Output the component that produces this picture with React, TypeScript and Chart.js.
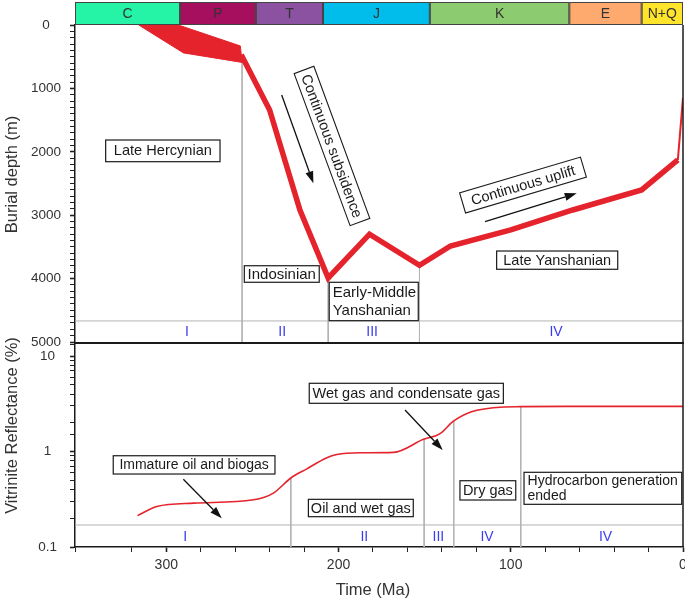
import React, { useEffect, useRef } from 'react';
import { Chart, registerables } from 'chart.js';

Chart.register(...registerables);

const FONT = "'Liberation Sans', Arial, Helvetica, sans-serif";
const RED = '#e5232c';
const GRAY = '#b3b3b3';
const BLUE = '#3a3af0';
const INK = '#1a1a1a';
const TICK_INK = '#333333';
const AGE_MAX = 353;

// ---------- geological periods (Ma) ----------
const periodNames = ['C', 'P', 'T', 'J', 'K', 'E', 'N+Q'];
const periodOlder = [353, 292, 248, 209, 147, 66, 24];
const periodYounger = [292, 248, 209, 147, 66, 24, 0];
const periodColors = ['#25f4a6', '#a50f5d', '#8a52a0', '#00bdeb', '#8ccb6f', '#fea96d', '#ffe42c'];

// ---------- burial history ----------
// early wide band (closed shape: lower edge then upper edge back)
const bandTime = [316, 290, 256, 257, 293];
const bandDepth = [0, 440, 590, 330, 0];
const burialTime = [256.5, 240, 222.4, 206, 182, 153, 135, 100, 64, 24, 3, 0];
const burialDepth = [470, 1340, 2920, 3990, 3300, 3790, 3486, 3230, 2918, 2602, 2129, 1150];

const depthTickLabels = [0, 1000, 2000, 3000, 4000, 5000];
const burialStageTimes = [256, 206, 153];
const burialStageTopDepth = [590, 4000, 3810];
const burialStageBaseDepth = 4668;
const burialStageLabels = ['I', 'II', 'III', 'IV'];
const burialStageLabelTimes = [288, 232.7, 180.5, 73.7];
const burialStageLabelDepth = 4842;

// ---------- vitrinite reflectance ----------
const roTime = [316.7, 305.5, 284, 249.4, 237.8, 227.7, 218.4, 206.8, 201, 187.5, 168, 150.7, 141, 133.3, 119.7, 94.6, 60, 0];
const roValue = [0.213, 0.266, 0.288, 0.312, 0.367, 0.528, 0.658, 0.859, 0.93, 0.97, 0.98, 1.34, 1.54, 2.08, 2.7, 2.95, 2.97, 2.97];

const roTickLabels = [0.1, 1, 10];
const ageTickLabels = [300, 200, 100, 0];
const roStageTimes = [227.7, 150.3, 133.1, 94.2];
const roStageTopValue = [0.528, 1.34, 2.08, 2.95];
const roStageBase = 0.17;
const roStageLabels = ['I', 'II', 'III', 'IV', 'IV'];
const roStageLabelTimes = [289, 185, 142, 113.8, 45];
const roStageLabelValue = 0.127;

// ---------- annotations (data coordinates) ----------
const upperNotes = [
  { lines: ['Late Hercynian'], x1: 335.2, x2: 268.8, y1: 1814, y2: 2156, size: 14.6, align: 'center', lh: 17 },
  { lines: ['Indosinian'], x1: 254.7, x2: 211.2, y1: 3797, y2: 4058, size: 15, align: 'center', lh: 17 },
  { lines: ['Early-Middle', 'Yanshanian'], x1: 205.4, x2: 153.7, y1: 4058, y2: 4664, size: 15, align: 'left', lh: 18.3 },
  { lines: ['Late Yanshanian'], x1: 108.2, x2: 37.9, y1: 3565, y2: 3853, size: 14.5, align: 'center', lh: 17 },
];
const upperRotNotes = [
  { text: 'Continuous subsidence', t: 203.8, d: 1908, w: 162, h: 21, angle: 69.8, size: 14.6 },
  { text: 'Continuous uplift', t: 92.9, d: 2524, w: 126, h: 21, angle: -16.5, size: 14.5 },
];
const upperArrows = [
  { t1: 233, d1: 1104, t2: 214.6, d2: 2497 },
  { t1: 114.95, d1: 3102, t2: 61.7, d2: 2655 },
];
const lowerNotes = [
  { lines: ['Immature oil and biogas'], x1: 330.8, x2: 236.9, y1: 0.903, y2: 0.581, size: 14, align: 'center', lh: 17 },
  { lines: ['Oil and wet gas'], x1: 217.5, x2: 156.6, y1: 0.3157, y2: 0.2077, size: 14.5, align: 'center', lh: 17 },
  { lines: ['Wet gas and condensate gas'], x1: 217.0, x2: 104.3, y1: 5.18, y2: 3.197, size: 14.5, align: 'center', lh: 17 },
  { lines: ['Dry gas'], x1: 129.5, x2: 97.1, y1: 0.4944, y2: 0.3105, size: 14.5, align: 'center', lh: 17 },
  { lines: ['Hydrocarbon generation', 'ended'], x1: 92.3, x2: 0.75, y1: 0.6057, y2: 0.2799, size: 14, align: 'left', lh: 14.5 },
];
const lowerArrows = [
  { t1: 290.1, d1: 0.512, t2: 267.8, d2: 0.1997 },
  { t1: 161.4, d1: 2.72, t2: 139.5, d2: 1.037 },
];

const near = (a: number, b: number) => Math.abs(a - b) < 1e-6 * Math.max(1, Math.abs(b));

function drawBox(ctx: any, xs: any, ys: any, n: any) {
  const l0 = xs.getPixelForValue(n.x1), r0 = xs.getPixelForValue(n.x2);
  const t0 = ys.getPixelForValue(n.y1), b0 = ys.getPixelForValue(n.y2);
  const left = Math.min(l0, r0), right = Math.max(l0, r0);
  const top = Math.min(t0, b0), bottom = Math.max(t0, b0);
  ctx.fillStyle = '#ffffff';
  ctx.fillRect(left, top, right - left, bottom - top);
  ctx.strokeStyle = INK;
  ctx.lineWidth = 1.2;
  ctx.strokeRect(left, top, right - left, bottom - top);
  ctx.fillStyle = INK;
  ctx.font = `${n.size}px ${FONT}`;
  ctx.textBaseline = 'middle';
  const mid = (top + bottom) / 2;
  const k = n.lines.length;
  n.lines.forEach((s: string, i: number) => {
    const yy = mid + (i - (k - 1) / 2) * n.lh + 0.5;
    if (n.align === 'left') {
      ctx.textAlign = 'left';
      ctx.fillText(s, left + 3.5, yy);
    } else {
      ctx.textAlign = 'center';
      ctx.fillText(s, (left + right) / 2, yy);
    }
  });
}

function drawRotBox(ctx: any, xs: any, ys: any, n: any) {
  const cx = xs.getPixelForValue(n.t), cy = ys.getPixelForValue(n.d);
  ctx.save();
  ctx.translate(cx, cy);
  ctx.rotate((n.angle * Math.PI) / 180);
  ctx.fillStyle = '#ffffff';
  ctx.fillRect(-n.w / 2, -n.h / 2, n.w, n.h);
  ctx.strokeStyle = INK;
  ctx.lineWidth = 1.1;
  ctx.strokeRect(-n.w / 2, -n.h / 2, n.w, n.h);
  ctx.fillStyle = INK;
  ctx.font = `${n.size}px ${FONT}`;
  ctx.textAlign = 'center';
  ctx.textBaseline = 'middle';
  ctx.fillText(n.text, 0, 1);
  ctx.restore();
}

function drawArrow(ctx: any, xs: any, ys: any, a: any) {
  const x1 = xs.getPixelForValue(a.t1), y1 = ys.getPixelForValue(a.d1);
  const x2 = xs.getPixelForValue(a.t2), y2 = ys.getPixelForValue(a.d2);
  const ang = Math.atan2(y2 - y1, x2 - x1);
  const head = 12, half = 4;
  const bx = x2 - head * Math.cos(ang), by = y2 - head * Math.sin(ang);
  ctx.strokeStyle = '#111';
  ctx.lineWidth = 1.3;
  ctx.beginPath();
  ctx.moveTo(x1, y1);
  ctx.lineTo(bx, by);
  ctx.stroke();
  ctx.fillStyle = '#111';
  ctx.beginPath();
  ctx.moveTo(x2, y2);
  ctx.lineTo(bx + half * Math.sin(ang), by - half * Math.cos(ang));
  ctx.lineTo(bx - half * Math.sin(ang), by + half * Math.cos(ang));
  ctx.closePath();
  ctx.fill();
}

function drawStageLabels(ctx: any, xs: any, ys: any, labels: string[], times: number[], v: number) {
  ctx.fillStyle = BLUE;
  ctx.font = `14px ${FONT}`;
  ctx.textAlign = 'center';
  ctx.textBaseline = 'middle';
  labels.forEach((s, i) => ctx.fillText(s, xs.getPixelForValue(times[i]), ys.getPixelForValue(v)));
}

function drawVTitle(ctx: any, text: string, x: number, y: number) {
  ctx.save();
  ctx.translate(x, y);
  ctx.rotate(-Math.PI / 2);
  ctx.fillStyle = TICK_INK;
  ctx.font = `16.5px ${FONT}`;
  ctx.textAlign = 'center';
  ctx.textBaseline = 'middle';
  ctx.fillText(text, 0, 0);
  ctx.restore();
}

const upperDecor = {
  id: 'upperDecor',
  afterDraw(chart: any) {
    const { ctx, chartArea: a, scales } = chart;
    const xs = scales.x, ys = scales.y;
    ctx.save();
    // period bar
    const barTop = a.top - 23, barH = 23;
    periodNames.forEach((n, i) => {
      const l = xs.getPixelForValue(periodOlder[i]);
      const r = xs.getPixelForValue(periodYounger[i]);
      ctx.fillStyle = periodColors[i];
      ctx.fillRect(l, barTop, r - l, barH);
    });
    ctx.strokeStyle = '#444';
    ctx.lineWidth = 1;
    periodNames.forEach((n, i) => {
      const l = xs.getPixelForValue(periodOlder[i]);
      const r = xs.getPixelForValue(periodYounger[i]);
      ctx.strokeRect(l + 0.5, barTop + 0.5, r - l - 1, barH - 1);
      ctx.fillStyle = '#333';
      ctx.font = `14px ${FONT}`;
      ctx.textAlign = 'center';
      ctx.textBaseline = 'middle';
      ctx.fillText(n, (l + r) / 2, barTop + barH / 2 + 1);
    });
    // frame
    ctx.strokeStyle = INK;
    ctx.lineWidth = 1.5;
    ctx.beginPath();
    ctx.moveTo(a.right, a.top);
    ctx.lineTo(a.right, a.bottom + 2);
    ctx.stroke();
    ctx.fillStyle = INK;
    ctx.fillRect(a.left, a.bottom, a.right - a.left + 1, 2);
    // stage numerals
    drawStageLabels(ctx, xs, ys, burialStageLabels, burialStageLabelTimes, burialStageLabelDepth);
    upperNotes.forEach((n) => drawBox(ctx, xs, ys, n));
    upperRotNotes.forEach((n) => drawRotBox(ctx, xs, ys, n));
    upperArrows.forEach((n) => drawArrow(ctx, xs, ys, n));
    drawVTitle(ctx, 'Burial depth (m)', 12, (a.top + a.bottom) / 2 - 9);
    ctx.restore();
  },
};

const lowerDecor = {
  id: 'lowerDecor',
  afterDraw(chart: any) {
    const { ctx, chartArea: a, scales } = chart;
    const xs = scales.x, ys = scales.y;
    ctx.save();
    ctx.strokeStyle = INK;
    ctx.lineWidth = 1.5;
    ctx.beginPath();
    ctx.moveTo(a.right, a.top);
    ctx.lineTo(a.right, a.bottom);
    ctx.stroke();
    drawStageLabels(ctx, xs, ys, roStageLabels, roStageLabelTimes, roStageLabelValue);
    lowerNotes.forEach((n) => drawBox(ctx, xs, ys, n));
    lowerArrows.forEach((n) => drawArrow(ctx, xs, ys, n));
    drawVTitle(ctx, 'Vitrinite Reflectance (%)', 12, (a.top + a.bottom) / 2 - 20);
    ctx.fillStyle = TICK_INK;
    ctx.font = `16.5px ${FONT}`;
    ctx.textAlign = 'center';
    ctx.textBaseline = 'middle';
    ctx.fillText('Time (Ma)', (a.left + a.right) / 2 - 6, chart.height - 9);
    ctx.restore();
  },
};

function gray(points: { x: number; y: number }[]) {
  return { data: points, borderColor: GRAY, borderWidth: 1, pointRadius: 0, fill: false, order: 5 };
}

function topConfig(): any {
  const lastSeg = burialTime.length - 1;
  return {
    type: 'line',
    data: {
      datasets: [
        {
          data: bandTime.map((t, i) => ({ x: t, y: bandDepth[i] })),
          fill: 'shape',
          backgroundColor: RED,
          borderColor: RED,
          borderWidth: 1,
          pointRadius: 0,
          order: 1,
        },
        {
          data: burialTime.map((t, i) => ({ x: t, y: burialDepth[i] })),
          borderColor: RED,
          borderWidth: 5.5,
          borderJoinStyle: 'miter',
          fill: false,
          pointRadius: 0,
          order: 0,
          segment: { borderWidth: (c: any) => (c.p1DataIndex === lastSeg ? 2 : undefined) },
        },
        ...burialStageTimes.map((t, i) => gray([{ x: t, y: burialStageTopDepth[i] }, { x: t, y: 5000 }])),
        gray([{ x: 0, y: burialStageBaseDepth }, { x: AGE_MAX, y: burialStageBaseDepth }]),
      ],
    },
    options: {
      animation: false,
      responsive: false,
      maintainAspectRatio: false,
      layout: { padding: { top: 25, right: 2, bottom: 18, left: 0 } },
      plugins: { legend: { display: false }, tooltip: { enabled: false } },
      scales: {
        x: { type: 'linear', min: 0, max: AGE_MAX, reverse: true, display: false },
        y: {
          type: 'linear',
          min: 0,
          max: 5000,
          reverse: true,
          afterFit: (s: any) => {
            s.width = 75;
            s.paddingTop = 0;
            s.paddingBottom = 0;
          },
          ticks: {
            stepSize: 100,
            autoSkip: false,
            crossAlign: 'center',
            padding: 9,
            color: TICK_INK,
            font: { family: FONT, size: 13.5 },
            callback: (v: number) => (depthTickLabels.some((t) => near(v, t)) ? String(v) : ''),
          },
          grid: {
            drawOnChartArea: false,
            tickLength: 5,
            tickColor: '#222',
            tickWidth: (c: any) => (c.tick && depthTickLabels.some((t) => near(c.tick.value, t)) ? 1.6 : 1),
          },
          border: { display: true, color: INK, width: 1.5 },
        },
      },
    },
    plugins: [upperDecor],
  };
}

function bottomConfig(): any {
  return {
    type: 'line',
    data: {
      datasets: [
        {
          data: roTime.map((t, i) => ({ x: t, y: roValue[i] })),
          borderColor: RED,
          borderWidth: 1.6,
          cubicInterpolationMode: 'monotone',
          fill: false,
          pointRadius: 0,
          order: 0,
        },
        ...roStageTimes.map((t, i) => gray([{ x: t, y: roStageTopValue[i] }, { x: t, y: 0.1 }])),
        gray([{ x: 0, y: roStageBase }, { x: AGE_MAX, y: roStageBase }]),
      ],
    },
    options: {
      animation: false,
      responsive: false,
      maintainAspectRatio: false,
      layout: { padding: { top: 44, right: 2, bottom: 0, left: 0 } },
      plugins: { legend: { display: false }, tooltip: { enabled: false } },
      scales: {
        x: {
          type: 'linear',
          min: 0,
          max: AGE_MAX,
          reverse: true,
          afterFit: (s: any) => {
            s.height = 52;
            s.paddingLeft = 0;
            s.paddingRight = 0;
          },
          ticks: {
            stepSize: 20,
            autoSkip: false,
            maxRotation: 0,
            minRotation: 0,
            padding: 5,
            color: TICK_INK,
            font: { family: FONT, size: 14 },
            callback: (v: number) => (ageTickLabels.some((t) => near(v, t)) ? String(v) : ''),
          },
          grid: {
            drawOnChartArea: false,
            tickLength: 5,
            tickColor: '#222',
            tickWidth: (c: any) => (c.tick && ageTickLabels.some((t) => near(c.tick.value, t)) ? 1.6 : 1),
          },
          border: { display: true, color: INK, width: 1.5 },
        },
        y: {
          type: 'logarithmic',
          min: 0.1,
          max: 13.36,
          afterFit: (s: any) => {
            s.width = 75;
            s.paddingTop = 0;
            s.paddingBottom = 0;
          },
          ticks: {
            autoSkip: false,
            crossAlign: 'center',
            padding: 13,
            color: TICK_INK,
            font: { family: FONT, size: 13.5 },
            callback: (v: number) => {
              const hit = roTickLabels.find((t) => near(v, t));
              return hit !== undefined ? String(hit) : '';
            },
          },
          grid: {
            drawOnChartArea: false,
            tickLength: 5,
            tickColor: '#222',
            tickWidth: (c: any) => (c.tick && roTickLabels.some((t) => near(c.tick.value, t)) ? 1.6 : 1),
          },
          border: { display: true, color: INK, width: 1.5 },
        },
      },
    },
    plugins: [lowerDecor],
  };
}

export default function App() {
  const topRef = useRef<HTMLCanvasElement>(null);
  const botRef = useRef<HTMLCanvasElement>(null);
  useEffect(() => {
    document.body.style.margin = '0';
    const c1 = new Chart(topRef.current as HTMLCanvasElement, topConfig());
    const c2 = new Chart(botRef.current as HTMLCanvasElement, bottomConfig());
    return () => {
      c1.destroy();
      c2.destroy();
    };
  }, []);
  return (
    <div style={{ position: 'relative', width: 685, height: 599, background: '#ffffff' }}>
      <canvas ref={topRef} width={685} height={360} style={{ position: 'absolute', left: 0, top: 0 }} />
      <canvas ref={botRef} width={685} height={299} style={{ position: 'absolute', left: 0, top: 300 }} />
    </div>
  );
}
